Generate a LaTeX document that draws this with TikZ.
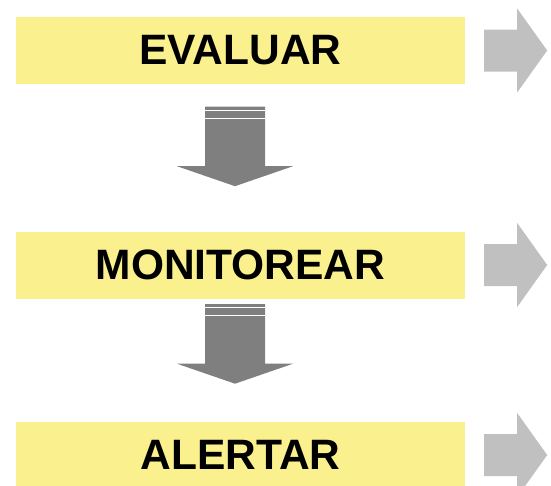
\documentclass[tikz,border=0pt]{standalone}
\usepackage{fontspec}
\setmainfont{Liberation Sans}
\usepackage{tikz}
\usepackage{xcolor}
\definecolor{boxyellow}{RGB}{250, 240, 142}
\definecolor{sidegray}{RGB}{192, 192, 192}
\definecolor{downgray}{RGB}{127, 127, 127}

\begin{document}
\begin{tikzpicture}[x=1pt, y=-1pt,
  stepbox/.style={fill=boxyellow, minimum width=449pt, minimum height=67pt, inner sep=0pt,
    font=\bfseries\fontsize{42.5}{50}\selectfont},
  sidearrow/.style={fill=sidegray},
  downarrow/.style={fill=downgray},
  stripe/.style={draw=white, line width=1.2pt}]
\useasboundingbox (0, 0) rectangle (551, 485);
% the three steps
\node [stepbox] (evaluar) at (240.5, 50.5) {EVALUAR};
\node [stepbox] (monitorear) at (240.5, 265) {MONITOREAR};
\node [stepbox] (alertar) at (240.5, 455) {ALERTAR};
% side arrows
\fill [sidearrow] ([xshift=19]evaluar.east) -- ++(0, -21) -- ++(33, 0) -- ++(0, -21) -- ++(30, 42)
  -- ++(-30, 42) -- ++(0, -21) -- ++(-33, 0) -- cycle;
\fill [sidearrow] ([xshift=19]monitorear.east) -- ++(0, -21) -- ++(33, 0) -- ++(0, -21) -- ++(30, 42)
  -- ++(-30, 42) -- ++(0, -21) -- ++(-33, 0) -- cycle;
\fill [sidearrow] ([xshift=19]alertar.east) -- ++(0, -21) -- ++(33, 0) -- ++(0, -21) -- ++(30, 42)
  -- ++(-30, 42) -- ++(0, -21) -- ++(-33, 0) -- cycle;
% evaluar -> monitorear
\fill [downarrow] ([shift={(-35.5, 22.5)}]evaluar.south) coordinate (d1) -- ++(60, 0) -- ++(0, 59.5)
  -- ++(28, 0) -- ++(-58, 20) -- ++(-58, -20) -- ++(28, 0) -- cycle;
\draw [stripe] ([shift={(0, 3.5)}]d1) -- ++(60, 0);
\draw [stripe] ([shift={(0, 11.5)}]d1) -- ++(60, 0);
% monitorear -> alertar
\fill [downarrow] ([shift={(-35.5, 5.5)}]monitorear.south) coordinate (d2) -- ++(60, 0) -- ++(0, 59.5)
  -- ++(28, 0) -- ++(-58, 20) -- ++(-58, -20) -- ++(28, 0) -- cycle;
\draw [stripe] ([shift={(0, 3.5)}]d2) -- ++(60, 0);
\draw [stripe] ([shift={(0, 11.5)}]d2) -- ++(60, 0);
\end{tikzpicture}
\end{document}
